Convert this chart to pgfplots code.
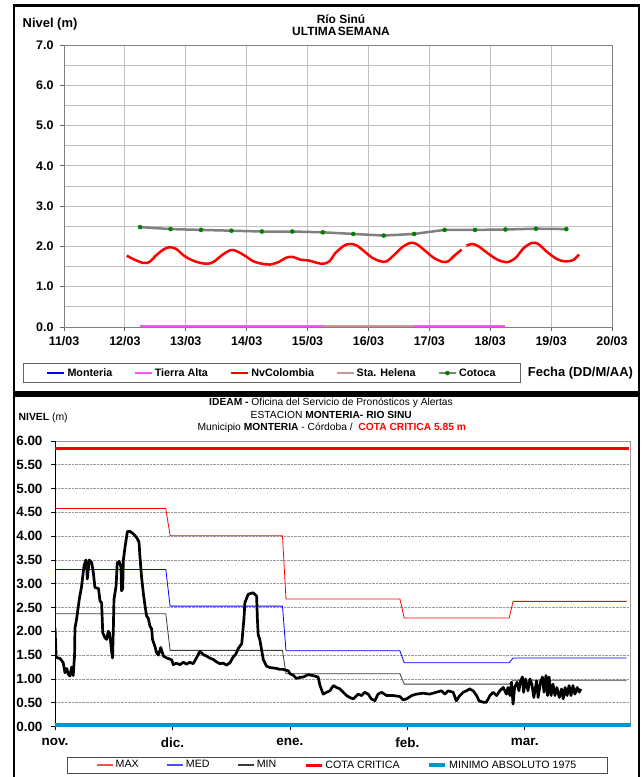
\documentclass[border=0pt]{standalone}
\usepackage{fontspec}
\setmainfont{Liberation Sans}
\usepackage{pgfplots}
\pgfplotsset{compat=1.18}
\definecolor{cotoca}{RGB}{128,128,128}
\definecolor{cgreen}{RGB}{0,128,0}
\definecolor{tierra}{RGB}{255,80,255}
\definecolor{helena}{RGB}{200,150,150}
\definecolor{minabs}{RGB}{0,153,204}
\definecolor{minline}{RGB}{60,60,60}
\newcommand{\fs}[1]{\fontsize{#1}{#1}\selectfont}
\pgfplotsset{cotocaleg/.style={legend image code/.code={\draw[##1, mark=none] (0bp,0bp) -- (17bp,0bp); \draw[##1] plot coordinates {(8.5bp,0bp)};}}}
\begin{document}
\begin{tikzpicture}[x=1bp,y=1bp]
\useasboundingbox (0,0) rectangle (642,777);
\fill[white] (0,0) rectangle (642,777);
\draw[line width=2.7bp] (14,771.5) rectangle (639,384.5);
\draw[line width=2.7bp] (14,381.5) rectangle (639,-5);

% ---------------- top panel ----------------
\begin{axis}[at={(64bp,450bp)}, anchor=south west, scale only axis,
  width=548bp, height=282bp,
  xmin=11, xmax=20, ymin=0, ymax=7,
  xtick={11,12,13,14,15,16,17,18,19,20},
  xticklabels={11/03,12/03,13/03,14/03,15/03,16/03,17/03,18/03,19/03,20/03},
  ytick={0,1,2,3,4,5,6,7},
  yticklabels={0.0,1.0,2.0,3.0,4.0,5.0,6.0,7.0},
  minor ytick={0.5,1.5,2.5,3.5,4.5,5.5,6.5},
  xmajorgrids, ymajorgrids, yminorgrids,
  grid style={draw=black!25, line width=0.8bp},
  minor grid style={draw=black!25, line width=0.8bp},
  axis line style={draw=black!50, line width=0.9bp},
  tick style={draw=black!60, line width=0.8bp},
  major tick length=4bp, minor tick length=0bp,
  tick align=outside, xtick pos=bottom, ytick pos=left,
  ticklabel style={font=\fs{12.5}\bfseries},
  yticklabel style={xshift=-3bp},
  xticklabel style={yshift=-2bp},
  unbounded coords=jump,
  legend columns=5,
  legend cell align=left,
  legend style={at={(-0.0755,-0.1277)}, anchor=north west,
    draw=black!60, line width=0.8bp, font=\fs{10.8}\bfseries,
    inner xsep=23bp, inner ysep=3bp,
    /tikz/every even column/.append style={column sep=20bp}},
  legend image code/.code={\draw[#1] (0bp,0bp) -- (17bp,0bp);},
]
\addlegendimage{blue, line width=2.5bp}
\addlegendentry{Monteria}
\addplot[tierra, line width=1.5bp] coordinates {(12.25,0.02) (15.25,0.02) (15.25,nan) (16.75,0.02) (18.25,0.02)};
\addlegendentry{Tierra Alta}
\addplot[red, line width=2.5bp, smooth] coordinates {
(12.03,1.77) (12.16,1.67) (12.30,1.59) (12.40,1.61) (12.50,1.76) (12.63,1.92) (12.73,1.98) (12.84,1.94)
(12.97,1.77) (13.10,1.66) (13.24,1.59) (13.37,1.57) (13.47,1.63) (13.61,1.80) (13.74,1.91) (13.84,1.88)
(13.98,1.76) (14.11,1.63) (14.25,1.57) (14.38,1.55) (14.52,1.61) (14.65,1.72) (14.75,1.74) (14.89,1.67)
(15.02,1.65) (15.16,1.59) (15.26,1.57) (15.36,1.63) (15.46,1.84) (15.60,2.02) (15.69,2.06) (15.80,2.03)
(15.93,1.88) (16.06,1.72) (16.20,1.63) (16.30,1.63) (16.43,1.80) (16.57,2.00) (16.70,2.09) (16.80,2.05)
(16.94,1.88) (17.07,1.72) (17.21,1.62) (17.31,1.63) (17.41,1.77) (17.53,1.92)
(17.57,nan)
(17.61,2.02) (17.71,2.06) (17.81,2.00) (17.95,1.84) (18.12,1.67) (18.28,1.61) (18.42,1.72) (18.55,1.96)
(18.69,2.09) (18.79,2.06) (18.92,1.88) (19.09,1.69) (19.22,1.63) (19.36,1.66) (19.46,1.80)};
\addlegendentry{NvColombia}
\addplot[helena, line width=1.5bp] coordinates {(15.25,0.02) (16.75,0.02)};
\addlegendentry{Sta. Helena}
\addplot[cotoca, line width=2.5bp, mark=*, mark size=2bp,
  mark options={fill=cgreen, draw=cgreen, line width=0.5bp}, cotocaleg]
 coordinates {
(12.25,2.48) (12.75,2.43) (13.25,2.41) (13.75,2.39) (14.25,2.37) (14.75,2.37) (15.25,2.35) (15.75,2.31)
(16.25,2.27) (16.75,2.31) (17.25,2.41) (17.75,2.41) (18.25,2.42) (18.75,2.44) (19.25,2.43)};
\addlegendentry{Cotoca}
\end{axis}
\node[anchor=base west, inner sep=0, font=\fs{13}\bfseries] at (22.5,749.7) {Nivel (m)};
\node[anchor=base, inner sep=0, font=\fs{12}\bfseries] at (341,753.7) {Río Sinú};
\node[anchor=base, inner sep=0, font=\fs{12}\bfseries] at (341,741) {ULTIMA\hspace{1.5bp}SEMANA};
\node[anchor=base west, inner sep=0, font=\fs{13}\bfseries] at (527.7,400.3) {Fecha (DD/M/AA)};

% ---------------- bottom panel ----------------
\begin{axis}[at={(55bp,50.5bp)}, anchor=south west, scale only axis,
  width=575.5bp, height=285.5bp,
  xmin=0, xmax=147, ymin=0, ymax=6,
  xtick={0,30,60,90,120},
  xticklabels={nov.,dic.,ene.,feb.,mar.},
  ytick={0,0.5,1,1.5,2,2.5,3,3.5,4,4.5,5,5.5,6},
  yticklabels={0.00,0.50,1.00,1.50,2.00,2.50,3.00,3.50,4.00,4.50,5.00,5.50,6.00},
  ymajorgrids,
  grid style={densely dotted, draw=black!40, line width=0.7bp},
  axis line style={draw=black!40, line width=0.8bp},
  tick style={draw=black, line width=0.8bp},
  major tick length=4bp, tick align=outside, xtick pos=bottom, ytick pos=left,
  ticklabel style={font=\fs{13.5}\bfseries},
  yticklabel style={xshift=-5bp},
  xticklabel style={yshift=-4bp},
  legend columns=5,
  legend cell align=left,
  legend style={at={(0.0209,-0.1058)}, anchor=north west,
    draw=black!70, line width=0.8bp, font=\fs{10.7},
    inner xsep=29bp, inner ysep=1.5bp,
    /tikz/every even column/.append style={column sep=26bp}},
  legend image code/.code={\draw[#1] (0bp,0bp) -- (16bp,0bp);},
]
\draw[black, line width=1.2bp] (rel axis cs:0,0) -- (rel axis cs:0,1);
\addplot[red, line width=0.8bp, legend image post style={line width=1.2bp, red!70}] coordinates {(0,4.58) (28.3,4.58) (29.4,4.01) (58.1,4.01) (59.0,2.68) (88.1,2.68) (89.2,2.28) (116.0,2.28) (117.0,2.63) (146,2.63)};
\addlegendentry{MAX}
\addplot[blue, line width=0.8bp, legend image post style={line width=1.2bp, blue!70}] coordinates {(0,3.30) (28.3,3.30) (29.4,2.53) (58.1,2.53) (59.0,1.59) (88.1,1.59) (89.2,1.34) (116.0,1.34) (117.0,1.44) (146,1.44)};
\addlegendentry{MED}
\addplot[minline, line width=0.8bp, legend image post style={line width=1.2bp}] coordinates {(0,2.37) (28.3,2.37) (29.4,1.60) (58.1,1.60) (59.0,1.11) (88.1,1.11) (89.2,0.89) (116.0,0.89) (117.0,0.97) (146,0.97)};
\addlegendentry{MIN}
\addplot[red, line width=3bp] coordinates {(0,5.85) (146.5,5.85)};
\addlegendentry{COTA CRITICA}
\addplot[minabs, line width=3.5bp] coordinates {(0,0.03) (147,0.03)};
\addlegendentry{MINIMO ABSOLUTO 1975}
\addplot[black, line width=2.7bp, line join=round, forget plot] coordinates {
(0.0,2.07) (0.3,1.45) (1.3,1.43) (2.1,1.34) (2.55,1.13) (3.0,1.22) (3.4,1.10) (3.8,1.06) (4.25,1.25) (4.65,1.07)
(5.0,1.5) (5.1,2.07) (5.5,2.25) (6.2,2.67) (6.8,2.95) (7.4,3.37) (7.9,3.50) (8.1,3.35) (8.25,3.10) (8.5,3.30)
(8.76,3.50) (9.36,3.45) (9.8,3.23) (10.2,2.92) (11.1,2.90) (11.5,2.64) (11.9,2.60) (12.2,1.97) (12.8,1.86) (13.2,1.83)
(13.6,2.00) (13.9,1.97) (14.2,1.79) (14.5,1.55) (14.7,1.44) (14.9,2.04) (15.06,2.67) (15.6,2.95) (15.9,3.44) (16.4,3.47)
(16.85,3.35) (17.0,2.85) (17.3,2.90) (17.45,3.49) (17.9,3.78) (18.5,4.10) (19.15,4.10) (20.0,4.05) (20.85,3.97) (21.45,3.88)
(21.7,3.57) (22.1,3.15) (22.55,2.81) (23.0,2.53) (23.4,2.32) (23.8,2.28) (24.25,2.11) (24.7,2.05) (24.9,1.83) (25.5,1.69)
(25.95,1.55) (26.4,1.50) (27.0,1.66) (27.7,1.48) (28.5,1.44) (29.2,1.42) (29.8,1.40) (30.2,1.30) (31.0,1.33) (31.9,1.30)
(32.8,1.35) (33.6,1.31) (34.4,1.35) (35.3,1.32) (36.2,1.45) (37.0,1.58) (37.9,1.51) (38.7,1.48) (39.5,1.44) (40.4,1.41)
(41.2,1.36) (42.1,1.32) (43.0,1.33) (43.8,1.29) (44.7,1.34) (45.5,1.46) (46.2,1.52) (46.8,1.64) (47.7,1.74) (48.25,2.25)
(48.5,2.60) (49.35,2.78) (50.6,2.81) (51.5,2.74) (51.7,2.25) (51.9,1.93) (52.3,1.83) (53.2,1.41) (54.0,1.27) (54.9,1.24)
(55.7,1.23) (56.6,1.22) (57.4,1.20) (58.3,1.20) (59.1,1.18) (59.6,1.17) (60.0,1.11) (60.8,1.08) (61.7,1.01) (62.5,1.03)
(63.4,1.04) (64.7,1.09) (65.9,1.07) (67.2,1.04) (67.7,0.86) (68.5,0.68) (69.4,0.72) (70.2,0.75) (71.1,0.86) (71.9,0.82)
(72.8,0.79) (73.6,0.72) (74.5,0.65) (75.3,0.61) (76.2,0.58) (77.4,0.68) (78.3,0.65) (79.1,0.72) (80.0,0.68) (80.8,0.58)
(81.7,0.54) (82.5,0.68) (83.4,0.72) (84.7,0.65) (86.4,0.65) (88.1,0.63) (88.9,0.56) (89.8,0.58) (91.1,0.65) (92.3,0.68)
(94.0,0.70) (95.7,0.68) (97.4,0.72) (98.7,0.75) (99.6,0.68) (100.4,0.75) (101.7,0.72) (102.5,0.54) (103.4,0.65) (104.3,0.72)
(105.1,0.75) (105.9,0.79) (106.8,0.75) (107.7,0.65) (108.3,0.54) (109.4,0.51) (110.2,0.51) (111.1,0.65) (111.9,0.72) (112.8,0.65)
(113.6,0.75) (114.5,0.82) (115.3,0.68) (115.7,0.82) (116.2,0.65) (116.6,0.93) (117.0,0.47) (117.4,0.82) (118.0,0.93) (118.5,0.75)
(118.9,0.96) (119.4,1.04) (119.7,0.72) (120.2,1.00) (120.8,0.75) (121.3,1.00) (121.8,0.89) (122.3,0.61) (123.0,0.96) (123.4,0.61)
(124.0,0.93) (124.5,1.04) (124.9,0.72) (125.4,1.07) (125.8,0.65) (126.2,1.04) (126.7,0.65) (127.2,0.89) (127.7,0.65) (128.2,0.82)
(128.8,0.61) (129.4,0.79) (129.8,0.58) (130.3,0.82) (130.8,0.65) (131.3,0.86) (131.8,0.65) (132.3,0.86) (132.8,0.68) (133.4,0.82)
(133.9,0.72) (134.3,0.79)};
\end{axis}
\node[anchor=base, inner sep=0, font=\fs{10.3}] at (331,371.3) {\textbf{IDEAM -} Oficina del Servicio de Pronósticos y Alertas};
\node[anchor=base, inner sep=0, font=\fs{10.3}] at (331.3,358.7) {ESTACION \textbf{MONTERIA- RIO SINU}};
\node[anchor=base, inner sep=0, font=\fs{10.3}] at (331.8,346) {Municipio \textbf{MONTERIA} - Córdoba /\ \ \textcolor{red}{\textbf{COTA CRITICA 5.85 m}}};
\node[anchor=base west, inner sep=0, font=\fs{10.4}] at (18.5,356.3) {\textbf{NIVEL} (m)};
\end{tikzpicture}
\end{document}
